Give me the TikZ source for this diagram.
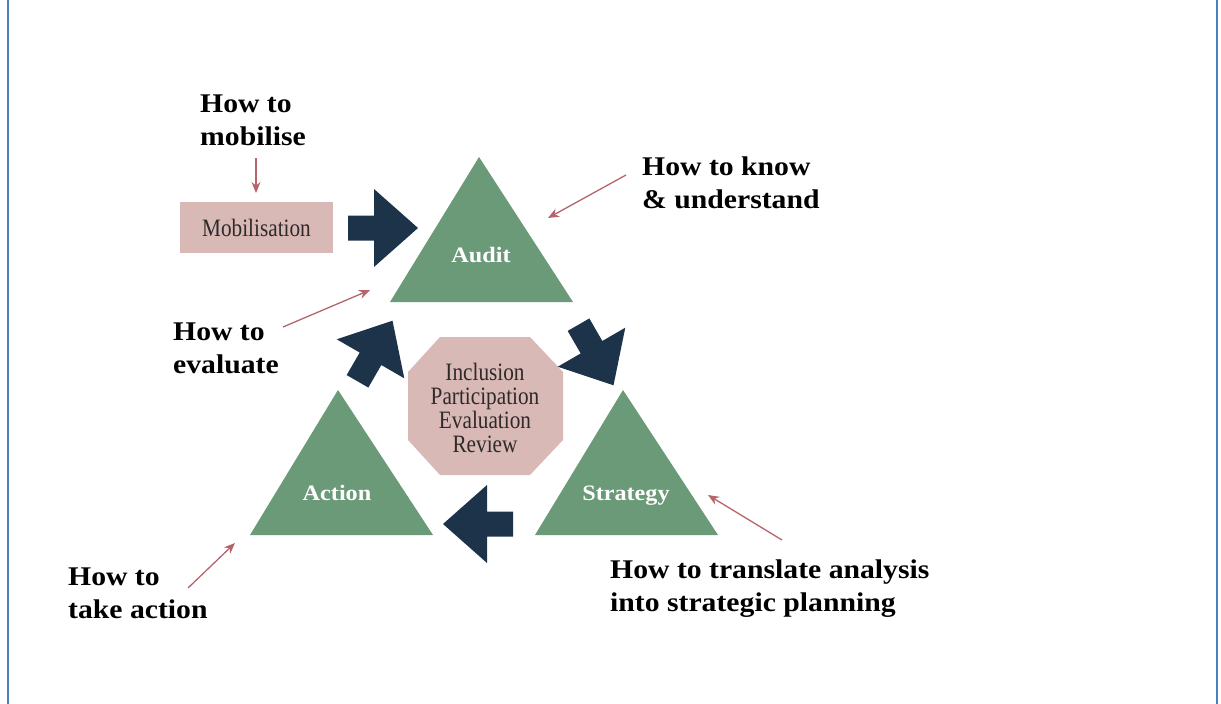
\documentclass[tikz,border=0pt]{standalone}
\usepackage{fontspec}
\setmainfont{Liberation Serif}
\newfontfamily\labelfont[FakeStretch=1.1]{Liberation Serif}
\newfontfamily\lightfont[FakeStretch=0.85]{Liberation Serif}
\usetikzlibrary{arrows.meta}
\definecolor{cTri}{HTML}{6B9A78}
\definecolor{cNavy}{HTML}{1C3349}
\definecolor{cPink}{HTML}{D9B9B6}
\definecolor{cRed}{HTML}{B5646C}
\definecolor{cFrame}{HTML}{4A7EBF}
\definecolor{cText}{HTML}{2E2A2A}
\tikzset{
  lbl/.style={anchor=base west, inner sep=0pt, align=left, text=black,
    font=\labelfont\bfseries\fontsize{27}{33}\selectfont},
  tlabel/.style={anchor=base, inner sep=0pt, text=white,
    font=\labelfont\bfseries\fontsize{22}{25}\selectfont},
  tri/.style={fill=cTri},
  pinkbox/.style={fill=cPink, inner sep=0pt, text=cText,
    font=\lightfont\fontsize{25}{24}\selectfont},
  redarr/.style={draw=cRed, line width=1.3pt, -{Stealth[length=11pt,width=9pt]}},
  blockarrow/.pic={\fill[cNavy] (-35,-12.5) -- (-9,-12.5) -- (-9,-39) -- (35,0)
      -- (-9,39) -- (-9,12.5) -- (-35,12.5) -- cycle;}
}
\begin{document}
\begin{tikzpicture}[x=1pt,y=-1pt]
\useasboundingbox (0,0) rectangle (1221,704);
% frame
\draw[cFrame, line width=2pt] (8,0) -- (8,704);
\draw[cFrame, line width=2pt] (1217,0) -- (1217,704);

% triangles
\fill[tri] (390,302) -- (573,302) -- (479,157) -- cycle;
\fill[tri] (535,535) -- (718,535) -- (623,390) -- cycle;
\fill[tri] (250,535) -- (433,535) -- (338,390) -- cycle;
\node[tlabel] (audit) at (481,262) {Audit};
\node[tlabel] (strategy) at (626,500) {Strategy};
\node[tlabel] (action) at (337,500) {Action};

% octagon
\fill[cPink] (440,337) -- (530,337) -- (563,372) -- (563,440) -- (530,475)
  -- (440,475) -- (408,440) -- (408,372) -- cycle;
\node[pinkbox, fill=none, align=center] (core) at (485,408)
  {Inclusion\\Participation\\Evaluation\\Review};

% mobilisation box
\node[pinkbox, minimum width=153pt, minimum height=51pt] (mob) at (256.5,227.5) {Mobilisation};

% block arrows
\pic (b1) at (383,228) {blockarrow};
\pic[rotate=-60] (b2) at (596,355) {blockarrow};
\pic[rotate=180] (b3) at (478,524) {blockarrow};
\pic[rotate=60] (b4) at (375,351) {blockarrow};

% labels (anchor = baseline of last line)
\node[lbl] (lmob) at (200,145) {How to\\mobilise};
\node[lbl] (lknow) at (642,208) {How to know\\\& understand};
\node[lbl] (leval) at (173,373) {How to\\evaluate};
\node[lbl] (lact) at (68,618) {How to\\take action};
\node[lbl] (lstrat) at (610,611) {How to translate analysis\\into strategic planning};

% thin red arrows
\coordinate (m1) at (256,158); \coordinate (m2) at (256,193);
\coordinate (k1) at (626,175); \coordinate (k2) at (548,218);
\coordinate (e1) at (283,327); \coordinate (e2) at (370,290);
\coordinate (a1) at (188,588); \coordinate (a2) at (235,543);
\coordinate (s1) at (782,540); \coordinate (s2) at (708,495);
\draw[redarr] (m1) -- (m2);
\draw[redarr] (k1) -- (k2);
\draw[redarr] (e1) -- (e2);
\draw[redarr] (a1) -- (a2);
\draw[redarr] (s1) -- (s2);
\end{tikzpicture}
\end{document}
